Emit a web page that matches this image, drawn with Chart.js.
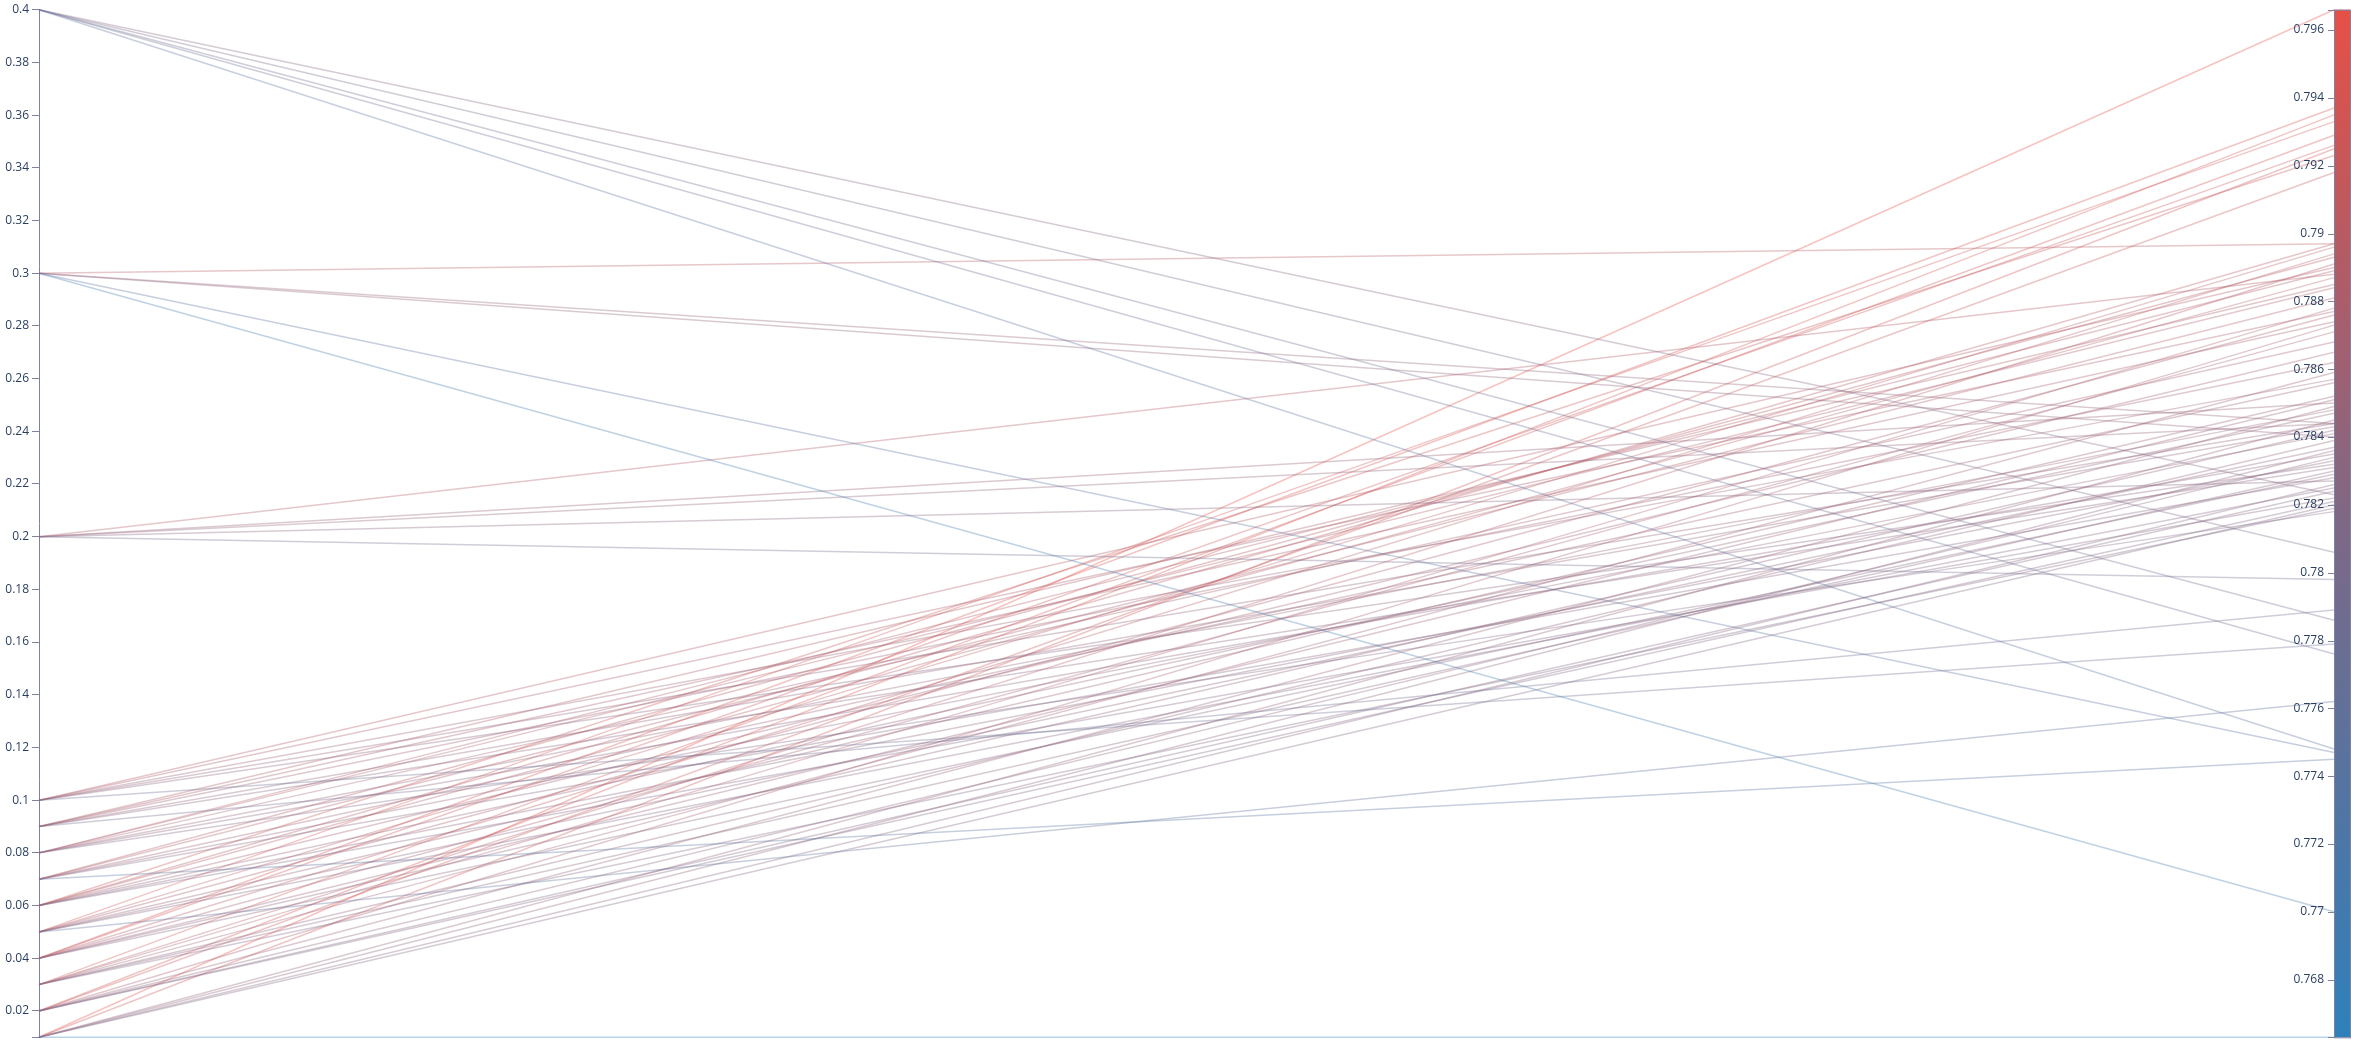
<!DOCTYPE html>
<html>
<head>
<meta charset="utf-8">
<script src="https://cdn.jsdelivr.net/npm/chart.js@4.4.1/dist/chart.umd.min.js"></script>
<style>
html,body{margin:0;padding:0;background:#ffffff;}
#wrap{width:2356px;height:1044px;position:relative;}
</style>
</head>
<body>
<div id="wrap"><canvas id="c" width="2356" height="1044"></canvas></div>
<script>
// ---- data: one entry per trial (left axis value, right axis value) ----
const dropout = [
  0.01,0.01,0.01,0.01,0.01,0.01,0.01,
  0.02,0.02,0.02,0.02,0.02,0.02,0.02,
  0.03,0.03,0.03,0.03,0.03,0.03,0.03,
  0.04,0.04,0.04,0.04,0.04,0.04,0.04,
  0.05,0.05,0.05,0.05,0.05,0.05,0.05,
  0.06,0.06,0.06,0.06,0.06,0.06,0.06,
  0.07,0.07,0.07,0.07,0.07,0.07,
  0.08,0.08,0.08,0.08,0.08,0.08,
  0.09,0.09,0.09,0.09,0.09,0.09,
  0.1,0.1,0.1,0.1,0.1,0.1,
  0.2,0.2,0.2,0.2,0.2,
  0.3,0.3,0.3,0.3,0.3,
  0.4,0.4,0.4,0.4,0.4
];
const accuracy = [
  0.7966,0.7925,0.7845,0.7836,0.7826,0.7820,0.7663,
  0.7935,0.7918,0.7873,0.7849,0.7834,0.7824,0.7821,
  0.7929,0.7891,0.7878,0.7859,0.7839,0.7830,0.7819,
  0.7937,0.7926,0.7894,0.7871,0.7851,0.7842,0.7829,
  0.7933,0.7896,0.7876,0.7852,0.7837,0.7825,0.7762,
  0.7923,0.7897,0.7887,0.7865,0.7847,0.7833,0.7822,
  0.7893,0.7881,0.7856,0.7841,0.7828,0.7745,
  0.7889,0.7884,0.7868,0.7848,0.7835,0.7818,
  0.7885,0.7874,0.7862,0.7843,0.7831,0.7789,
  0.7890,0.7877,0.7857,0.7844,0.7832,0.7779,
  0.7888,0.7850,0.7844,0.7827,0.7798,
  0.7897,0.7844,0.7840,0.7747,0.7700,
  0.7823,0.7806,0.7786,0.7776,0.7748
];
const leftTicks = [0.02,0.04,0.06,0.08,0.1,0.12,0.14,0.16,0.18,0.2,0.22,0.24,0.26,0.28,0.3,0.32,0.34,0.36,0.38,0.4];
const rightTicks = [0.768,0.77,0.772,0.774,0.776,0.778,0.78,0.782,0.784,0.786,0.788,0.79,0.792,0.794,0.796];
const colorStops = [[0,[46,128,187]],[0.5,[126,104,134]],[1,[230,80,70]]];

// ---- styling ----
const AXIS_COLOR = '#7e849e';
const LABEL_COLOR = '#2a3f5f';
const FONT = {family:'"Open Sans", "Liberation Sans", Arial, sans-serif', size:12};

const lMin = Math.min(...dropout), lMax = Math.max(...dropout);
const rMin = Math.min(...accuracy), rMax = Math.max(...accuracy);

function fmt(v){ return String(Number(v.toFixed(4))); }
function colorAt(f){
  f = Math.max(0, Math.min(1, f));
  for (let i = 1; i < colorStops.length; i++){
    const [p1,c1] = colorStops[i];
    const [p0,c0] = colorStops[i-1];
    if (f <= p1){
      const t = (f - p0) / (p1 - p0);
      const c = c0.map((a,k)=>Math.round(a + (c1[k]-a)*t));
      return 'rgb(' + c.join(',') + ')';
    }
  }
  return 'rgb(' + colorStops[colorStops.length-1][1].join(',') + ')';
}

const parcoords = {
  id: 'parcoords',
  beforeDatasetsDraw(chart){
    const {ctx, scales:{x, yL, yR}} = chart;
    const x0 = x.getPixelForValue(0), x1 = x.getPixelForValue(1);
    ctx.save();
    ctx.lineWidth = 1.5;
    ctx.globalAlpha = 0.34;
    ctx.lineCap = 'butt';
    for (let i = 0; i < dropout.length; i++){
      ctx.strokeStyle = colorAt((accuracy[i] - rMin) / (rMax - rMin));
      ctx.beginPath();
      ctx.moveTo(x0, yL.getPixelForValue(dropout[i]));
      ctx.lineTo(x1, yR.getPixelForValue(accuracy[i]));
      ctx.stroke();
    }
    ctx.restore();
  },
  afterDraw(chart){
    const {ctx, scales:{yR}} = chart;
    const ax = yR.left;
    const top = yR.getPixelForValue(rMax), bot = yR.getPixelForValue(rMin);
    // colour bar
    const g = ctx.createLinearGradient(0, bot, 0, top);
    colorStops.forEach(([p,c]) => g.addColorStop(p, 'rgb(' + c.join(',') + ')'));
    ctx.save();
    ctx.fillStyle = g;
    ctx.fillRect(ax, top, 16, bot - top);
    ctx.strokeStyle = AXIS_COLOR;
    ctx.lineWidth = 1;
    ctx.strokeRect(ax + 0.5, top + 0.5, 16, bot - top);
    // ticks and labels of the right axis
    ctx.font = FONT.size + 'px ' + FONT.family;
    ctx.fillStyle = LABEL_COLOR;
    ctx.textAlign = 'right';
    ctx.textBaseline = 'middle';
    ctx.beginPath();
    [rMin, rMax].concat(rightTicks).forEach(v => {
      const y = Math.round(yR.getPixelForValue(v)) + 0.5;
      ctx.moveTo(ax - 6, y); ctx.lineTo(ax, y);
    });
    ctx.stroke();
    rightTicks.forEach(v => {
      ctx.fillText(fmt(v), ax - 10, yR.getPixelForValue(v));
    });
    ctx.restore();
  }
};

new Chart(document.getElementById('c'), {
  type: 'scatter',
  data: {
    datasets: [
      {label:'dropout', data: dropout.map(v => ({x:0, y:v})), yAxisID:'yL', pointRadius:0, showLine:false},
      {label:'accuracy', data: accuracy.map(v => ({x:1, y:v})), yAxisID:'yR', pointRadius:0, showLine:false}
    ]
  },
  options: {
    responsive: false,
    animation: false,
    devicePixelRatio: 1,
    layout: {padding: {top: 9.7, bottom: 6.7, left: 0, right: 0}},
    plugins: {legend: {display:false}, tooltip: {enabled:false}},
    scales: {
      x: {type:'linear', min:0, max:1, display:false},
      yL: {
        type:'linear', position:'left', min:lMin, max:lMax,
        afterFit(s){ s.width = 39; s.paddingTop = 0; s.paddingBottom = 0; },
        afterBuildTicks(s){ s.ticks = [{value:lMin}].concat(leftTicks.map(v => ({value:v}))); },
        ticks: {
          autoSkip:false, padding:3, color:LABEL_COLOR, font:FONT,
          callback(v){ return v === lMin ? '' : fmt(v); }
        },
        grid: {drawOnChartArea:false, drawTicks:true, tickLength:7, color:AXIS_COLOR},
        border: {display:true, color:AXIS_COLOR, width:1}
      },
      yR: {
        type:'linear', position:'right', min:rMin, max:rMax,
        afterFit(s){ s.width = 22; s.paddingTop = 0; s.paddingBottom = 0; },
        ticks: {display:false},
        grid: {display:false},
        border: {display:false}
      }
    }
  },
  plugins: [parcoords]
});
</script>
</body>
</html>
